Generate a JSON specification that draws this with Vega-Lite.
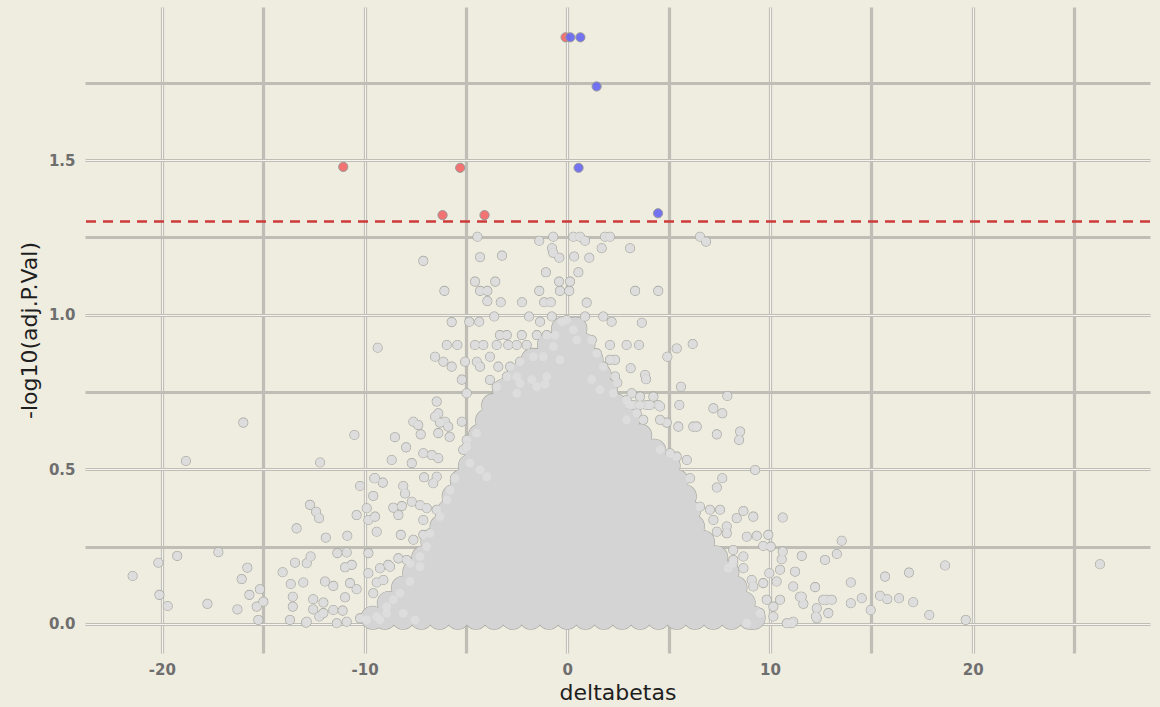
{
"$schema":"https://vega.github.io/schema/vega-lite/v6.json",
"width":1065,"height":646,
"autosize":{"type":"none"},
"padding":{"left":85,"top":7,"right":10,"bottom":54},
"background":"#EFECE0",
"config":{"view":{"stroke":null},"font":"DejaVu Sans","axis":{"labelFont":"DejaVu Sans","titleFont":"DejaVu Sans"}},
"datasets":{
"core":[
{"db":-9.6,"p":0.02},{"db":-9.0,"p":0.02},{"db":-8.1,"p":0.02},{"db":-7.2,"p":0.02},{"db":-6.3,"p":0.02},{"db":-5.4,"p":0.02},{"db":-4.5,"p":0.02},{"db":-3.6,"p":0.02},{"db":-2.7,"p":0.02},{"db":-1.8,"p":0.02},{"db":-0.9,"p":0.02},{"db":0,"p":0.02},{"db":0.9,"p":0.02},{"db":1.8,"p":0.02},{"db":2.7,"p":0.02},{"db":3.6,"p":0.02},{"db":4.5,"p":0.02},{"db":5.4,"p":0.02},{"db":6.3,"p":0.02},{"db":7.2,"p":0.02},{"db":8.1,"p":0.02},{"db":9.0,"p":0.02},{"db":9.2,"p":0.02},
{"db":-8.8,"p":0.068},{"db":-8.55,"p":0.068},{"db":-7.65,"p":0.068},{"db":-6.75,"p":0.068},{"db":-5.85,"p":0.068},{"db":-4.95,"p":0.068},{"db":-4.05,"p":0.068},{"db":-3.15,"p":0.068},{"db":-2.25,"p":0.068},{"db":-1.35,"p":0.068},{"db":-0.45,"p":0.068},{"db":0.45,"p":0.068},{"db":1.35,"p":0.068},{"db":2.25,"p":0.068},{"db":3.15,"p":0.068},{"db":4.05,"p":0.068},{"db":4.95,"p":0.068},{"db":5.85,"p":0.068},{"db":6.75,"p":0.068},{"db":7.65,"p":0.068},{"db":8.55,"p":0.068},{"db":8.7,"p":0.068},
{"db":-8.1,"p":0.117},{"db":-7.2,"p":0.117},{"db":-6.3,"p":0.117},{"db":-5.4,"p":0.117},{"db":-4.5,"p":0.117},{"db":-3.6,"p":0.117},{"db":-2.7,"p":0.117},{"db":-1.8,"p":0.117},{"db":-0.9,"p":0.117},{"db":0,"p":0.117},{"db":0.9,"p":0.117},{"db":1.8,"p":0.117},{"db":2.7,"p":0.117},{"db":3.6,"p":0.117},{"db":4.5,"p":0.117},{"db":5.4,"p":0.117},{"db":6.3,"p":0.117},{"db":7.2,"p":0.117},{"db":8.1,"p":0.117},{"db":8.3,"p":0.117},
{"db":-7.55,"p":0.166},{"db":-6.75,"p":0.166},{"db":-5.85,"p":0.166},{"db":-4.95,"p":0.166},{"db":-4.05,"p":0.166},{"db":-3.15,"p":0.166},{"db":-2.25,"p":0.166},{"db":-1.35,"p":0.166},{"db":-0.45,"p":0.166},{"db":0.45,"p":0.166},{"db":1.35,"p":0.166},{"db":2.25,"p":0.166},{"db":3.15,"p":0.166},{"db":4.05,"p":0.166},{"db":4.95,"p":0.166},{"db":5.85,"p":0.166},{"db":6.75,"p":0.166},{"db":7.65,"p":0.166},{"db":7.9,"p":0.166},
{"db":-7.1,"p":0.215},{"db":-6.3,"p":0.215},{"db":-5.4,"p":0.215},{"db":-4.5,"p":0.215},{"db":-3.6,"p":0.215},{"db":-2.7,"p":0.215},{"db":-1.8,"p":0.215},{"db":-0.9,"p":0.215},{"db":0,"p":0.215},{"db":0.9,"p":0.215},{"db":1.8,"p":0.215},{"db":2.7,"p":0.215},{"db":3.6,"p":0.215},{"db":4.5,"p":0.215},{"db":5.4,"p":0.215},{"db":6.3,"p":0.215},{"db":7.2,"p":0.215},{"db":7.35,"p":0.215},
{"db":-6.65,"p":0.265},{"db":-5.85,"p":0.265},{"db":-4.95,"p":0.265},{"db":-4.05,"p":0.265},{"db":-3.15,"p":0.265},{"db":-2.25,"p":0.265},{"db":-1.35,"p":0.265},{"db":-0.45,"p":0.265},{"db":0.45,"p":0.265},{"db":1.35,"p":0.265},{"db":2.25,"p":0.265},{"db":3.15,"p":0.265},{"db":4.05,"p":0.265},{"db":4.95,"p":0.265},{"db":5.85,"p":0.265},{"db":6.7,"p":0.265},
{"db":-6.2,"p":0.315},{"db":-5.4,"p":0.315},{"db":-4.5,"p":0.315},{"db":-3.6,"p":0.315},{"db":-2.7,"p":0.315},{"db":-1.8,"p":0.315},{"db":-0.9,"p":0.315},{"db":0,"p":0.315},{"db":0.9,"p":0.315},{"db":1.8,"p":0.315},{"db":2.7,"p":0.315},{"db":3.6,"p":0.315},{"db":4.5,"p":0.315},{"db":5.4,"p":0.315},{"db":6.2,"p":0.315},
{"db":-5.85,"p":0.364},{"db":-4.95,"p":0.364},{"db":-4.05,"p":0.364},{"db":-3.15,"p":0.364},{"db":-2.25,"p":0.364},{"db":-1.35,"p":0.364},{"db":-0.45,"p":0.364},{"db":0.45,"p":0.364},{"db":1.35,"p":0.364},{"db":2.25,"p":0.364},{"db":3.15,"p":0.364},{"db":4.05,"p":0.364},{"db":4.95,"p":0.364},{"db":5.85,"p":0.364},{"db":6.0,"p":0.364},
{"db":-5.6,"p":0.413},{"db":-5.4,"p":0.413},{"db":-4.5,"p":0.413},{"db":-3.6,"p":0.413},{"db":-2.7,"p":0.413},{"db":-1.8,"p":0.413},{"db":-0.9,"p":0.413},{"db":0,"p":0.413},{"db":0.9,"p":0.413},{"db":1.8,"p":0.413},{"db":2.7,"p":0.413},{"db":3.6,"p":0.413},{"db":4.5,"p":0.413},{"db":5.4,"p":0.413},{"db":5.8,"p":0.413},
{"db":-5.2,"p":0.462},{"db":-4.95,"p":0.462},{"db":-4.05,"p":0.462},{"db":-3.15,"p":0.462},{"db":-2.25,"p":0.462},{"db":-1.35,"p":0.462},{"db":-0.45,"p":0.462},{"db":0.45,"p":0.462},{"db":1.35,"p":0.462},{"db":2.25,"p":0.462},{"db":3.15,"p":0.462},{"db":4.05,"p":0.462},{"db":4.95,"p":0.462},{"db":5.4,"p":0.462},
{"db":-4.8,"p":0.511},{"db":-4.5,"p":0.511},{"db":-3.6,"p":0.511},{"db":-2.7,"p":0.511},{"db":-1.8,"p":0.511},{"db":-0.9,"p":0.511},{"db":0,"p":0.511},{"db":0.9,"p":0.511},{"db":1.8,"p":0.511},{"db":2.7,"p":0.511},{"db":3.6,"p":0.511},{"db":4.5,"p":0.511},{"db":5.0,"p":0.511},
{"db":-4.5,"p":0.56},{"db":-4.05,"p":0.56},{"db":-3.15,"p":0.56},{"db":-2.25,"p":0.56},{"db":-1.35,"p":0.56},{"db":-0.45,"p":0.56},{"db":0.45,"p":0.56},{"db":1.35,"p":0.56},{"db":2.25,"p":0.56},{"db":3.15,"p":0.56},{"db":4.05,"p":0.56},{"db":4.3,"p":0.56},
{"db":-4.3,"p":0.609},{"db":-3.6,"p":0.609},{"db":-2.7,"p":0.609},{"db":-1.8,"p":0.609},{"db":-0.9,"p":0.609},{"db":0,"p":0.609},{"db":0.9,"p":0.609},{"db":1.8,"p":0.609},{"db":2.7,"p":0.609},{"db":3.6,"p":0.609},
{"db":-3.95,"p":0.658},{"db":-3.15,"p":0.658},{"db":-2.25,"p":0.658},{"db":-1.35,"p":0.658},{"db":-0.45,"p":0.658},{"db":0.45,"p":0.658},{"db":1.35,"p":0.658},{"db":2.25,"p":0.658},{"db":3.0,"p":0.658},
{"db":-3.65,"p":0.707},{"db":-2.7,"p":0.707},{"db":-1.8,"p":0.707},{"db":-0.9,"p":0.707},{"db":0,"p":0.707},{"db":0.9,"p":0.707},{"db":1.8,"p":0.707},{"db":2.4,"p":0.707},
{"db":-3.1,"p":0.756},{"db":-2.25,"p":0.756},{"db":-1.35,"p":0.756},{"db":-0.45,"p":0.756},{"db":0.45,"p":0.756},{"db":1.35,"p":0.756},{"db":1.9,"p":0.756},
{"db":-2.4,"p":0.805},{"db":-1.8,"p":0.805},{"db":-0.9,"p":0.805},{"db":0,"p":0.805},{"db":0.9,"p":0.805},{"db":1.6,"p":0.805},
{"db":-1.7,"p":0.854},{"db":-1.35,"p":0.854},{"db":-0.45,"p":0.854},{"db":0.45,"p":0.854},{"db":1.2,"p":0.854},
{"db":-0.9,"p":0.903},{"db":0,"p":0.903},{"db":0.8,"p":0.903},
{"db":-0.2,"p":0.955},{"db":0.4,"p":0.955}
],
"scatter":[
{"db":-7.10,"p":1.174},{"db":-6.06,"p":1.077},{"db":-4.43,"p":1.252},{"db":-4.30,"p":1.186},{"db":-3.22,"p":1.191},{"db":-1.38,"p":1.239},{"db":-0.69,"p":1.252},{"db":-0.75,"p":1.215},{"db":-0.69,"p":1.200},{"db":-0.39,"p":1.184},{"db":0.30,"p":1.252},{"db":0.34,"p":1.188},{"db":-1.05,"p":1.137},{"db":-0.40,"p":1.107},{"db":-0.36,"p":1.077},{"db":0.14,"p":1.107},{"db":0.10,"p":1.077},{"db":-4.55,"p":1.107},{"db":-3.55,"p":1.107},{"db":-4.30,"p":1.077},{"db":-3.94,"p":1.077},{"db":-3.94,"p":1.044},{"db":-3.28,"p":1.040},{"db":-2.23,"p":1.040},{"db":-1.38,"p":1.077},{"db":-1.14,"p":1.040},{"db":-0.81,"p":1.040},
{"db":-5.70,"p":0.976},{"db":-4.83,"p":0.977},{"db":-4.34,"p":0.977},{"db":-3.60,"p":0.994},{"db":-1.88,"p":0.994},{"db":-1.34,"p":0.977},{"db":-0.76,"p":0.994},{"db":-0.27,"p":0.977},
{"db":-3.32,"p":0.934},{"db":-2.98,"p":0.934},{"db":-2.24,"p":0.934},{"db":-1.50,"p":0.934},{"db":-1.01,"p":0.934},{"db":-0.60,"p":0.934},
{"db":-5.94,"p":0.902},{"db":-5.42,"p":0.902},{"db":-4.55,"p":0.902},{"db":-4.14,"p":0.902},{"db":-3.48,"p":0.902},{"db":-2.91,"p":0.902},{"db":-2.49,"p":0.902},{"db":-2.00,"p":0.902},
{"db":-6.52,"p":0.864},{"db":-6.11,"p":0.848},{"db":-5.70,"p":0.832},{"db":-5.04,"p":0.848},{"db":-4.46,"p":0.848},{"db":-4.30,"p":0.832},{"db":-3.81,"p":0.864},{"db":-3.40,"p":0.832},{"db":-2.82,"p":0.832},{"db":-2.33,"p":0.848},{"db":-1.67,"p":0.864},{"db":-1.18,"p":0.864},
{"db":-5.20,"p":0.790},{"db":-2.49,"p":0.800},{"db":-1.75,"p":0.790},{"db":-1.10,"p":0.775},
{"db":-4.96,"p":0.746},{"db":-3.48,"p":0.767},{"db":-2.49,"p":0.746},{"db":-6.44,"p":0.719},{"db":-7.59,"p":0.654},{"db":-7.35,"p":0.643},{"db":-6.36,"p":0.681},{"db":-6.03,"p":0.654},{"db":-5.20,"p":0.654},{"db":-9.35,"p":0.893},
{"db":0.63,"p":1.252},{"db":0.88,"p":1.239},{"db":1.86,"p":1.252},{"db":2.11,"p":1.252},{"db":1.70,"p":1.215},{"db":3.10,"p":1.215},{"db":6.55,"p":1.252},{"db":6.85,"p":1.236},{"db":1.09,"p":1.184},{"db":0.55,"p":1.137},{"db":3.35,"p":1.077},{"db":4.49,"p":1.077},{"db":0.96,"p":1.039},{"db":0.88,"p":0.994},{"db":1.78,"p":0.994},{"db":2.19,"p":0.977},{"db":3.68,"p":0.974},{"db":2.93,"p":0.902},{"db":3.54,"p":0.902},{"db":2.11,"p":0.902},{"db":2.36,"p":0.854},{"db":3.13,"p":0.827},{"db":3.84,"p":0.805},{"db":3.89,"p":0.791},{"db":2.47,"p":0.780},{"db":1.21,"p":0.791},
{"db":5.40,"p":0.891},{"db":6.19,"p":0.905},{"db":4.94,"p":0.864},{"db":5.61,"p":0.767},{"db":5.53,"p":0.708},{"db":7.90,"p":0.737},{"db":7.21,"p":0.697},{"db":7.65,"p":0.681},{"db":3.18,"p":0.746},{"db":4.25,"p":0.735},{"db":4.49,"p":0.708},{"db":3.92,"p":0.708},{"db":3.26,"p":0.708},
{"db":8.53,"p":0.622},{"db":8.48,"p":0.595},{"db":7.38,"p":0.613},{"db":5.48,"p":0.638},{"db":6.22,"p":0.638},{"db":6.39,"p":0.638},{"db":4.91,"p":0.651},{"db":4.58,"p":0.703},{"db":4.08,"p":0.708},{"db":3.59,"p":0.708},{"db":3.10,"p":0.708},
{"db":9.27,"p":0.498},{"db":7.65,"p":0.471},{"db":7.38,"p":0.441},{"db":10.63,"p":0.344},{"db":8.69,"p":0.365},{"db":9.18,"p":0.347},{"db":8.36,"p":0.342},{"db":7.87,"p":0.315},{"db":7.38,"p":0.298},{"db":7.87,"p":0.293},{"db":8.86,"p":0.282},{"db":9.35,"p":0.285},{"db":9.92,"p":0.288},{"db":9.67,"p":0.252},{"db":10.04,"p":0.250},{"db":13.54,"p":0.269},{"db":11.57,"p":0.220},{"db":12.72,"p":0.207},{"db":13.30,"p":0.226},{"db":11.24,"p":0.169},{"db":10.58,"p":0.209},{"db":10.63,"p":0.234},{"db":8.69,"p":0.180},{"db":8.19,"p":0.196},{"db":7.95,"p":0.180},{"db":9.10,"p":0.142},{"db":9.67,"p":0.132},{"db":10.33,"p":0.137},{"db":9.97,"p":0.164},{"db":10.50,"p":0.175},{"db":11.15,"p":0.121},{"db":11.48,"p":0.088},{"db":12.23,"p":0.119},{"db":12.80,"p":0.078},{"db":13.99,"p":0.134},{"db":13.99,"p":0.067},{"db":10.50,"p":0.078},{"db":10.17,"p":0.056},{"db":12.31,"p":0.051},{"db":12.88,"p":0.035},{"db":11.15,"p":0.007},{"db":12.31,"p":0.018},{"db":11.65,"p":0.065},{"db":11.57,"p":0.088},
{"db":18.64,"p":0.189},{"db":15.68,"p":0.153},{"db":16.86,"p":0.166},{"db":15.43,"p":0.091},{"db":15.79,"p":0.080},{"db":16.37,"p":0.083},{"db":17.07,"p":0.070},{"db":17.86,"p":0.029},{"db":19.66,"p":0.013},{"db":26.28,"p":0.193},{"db":14.53,"p":0.083},{"db":14.97,"p":0.045},{"db":12.27,"p":0.024},{"db":11.07,"p":0.002},{"db":12.63,"p":0.078},{"db":13.05,"p":0.078},
{"db":4.58,"p":0.563},{"db":5.40,"p":0.541},{"db":5.90,"p":0.530},{"db":6.06,"p":0.471},{"db":5.07,"p":0.552},{"db":6.55,"p":0.379},{"db":7.04,"p":0.369},{"db":7.54,"p":0.369},{"db":7.21,"p":0.336},{"db":8.19,"p":0.239},{"db":8.69,"p":0.218},{"db":8.19,"p":0.207},{"db":9.18,"p":0.121},{"db":9.84,"p":0.078},{"db":9.51,"p":0.035},{"db":10.17,"p":0.024},{"db":10.83,"p":0.002},{"db":8.86,"p":0.002},
{"db":1.21,"p":0.918},{"db":1.46,"p":0.875},{"db":2.11,"p":0.854},{"db":1.78,"p":0.832},{"db":2.36,"p":0.800},{"db":1.62,"p":0.757},{"db":2.27,"p":0.746},{"db":2.93,"p":0.724},{"db":3.59,"p":0.735},{"db":3.43,"p":0.681},{"db":3.75,"p":0.660},{"db":4.58,"p":0.660},{"db":2.93,"p":0.660},
{"db":-0.02,"p":0.983},{"db":0.30,"p":0.951},{"db":0.47,"p":0.918},{"db":-0.69,"p":0.897},{"db":-0.36,"p":0.854},{"db":-1.01,"p":0.800},{"db":-1.50,"p":0.767},{"db":-2.33,"p":0.778},{"db":-2.98,"p":0.800},{"db":-3.81,"p":0.789},
{"db":-15.98,"p":0.651},{"db":-18.81,"p":0.527},{"db":-12.19,"p":0.522},{"db":-10.50,"p":0.611},{"db":-12.69,"p":0.385},{"db":-12.39,"p":0.363},{"db":-12.24,"p":0.342},{"db":-13.35,"p":0.309},{"db":-11.91,"p":0.279},{"db":-10.85,"p":0.285},{"db":-9.52,"p":0.471},{"db":-10.22,"p":0.446},{"db":-9.57,"p":0.414},{"db":-10.39,"p":0.352},{"db":-9.89,"p":0.374},{"db":-19.24,"p":0.220},{"db":-17.21,"p":0.232},{"db":-21.44,"p":0.155},{"db":-20.17,"p":0.198},{"db":-20.12,"p":0.094},{"db":-19.71,"p":0.058},{"db":-17.75,"p":0.065},{"db":-16.27,"p":0.047},{"db":-15.78,"p":0.182},{"db":-16.06,"p":0.145},{"db":-15.68,"p":0.094},{"db":-15.16,"p":0.112},{"db":-15.32,"p":0.056},{"db":-14.99,"p":0.072},{"db":-15.24,"p":0.013},{"db":-14.04,"p":0.167},{"db":-13.43,"p":0.198},{"db":-12.85,"p":0.196},{"db":-12.66,"p":0.218},{"db":-13.64,"p":0.129},{"db":-13.02,"p":0.134},{"db":-13.54,"p":0.088},{"db":-13.54,"p":0.056},{"db":-13.68,"p":0.013},{"db":-12.89,"p":0.004},{"db":-12.53,"p":0.080},{"db":-12.53,"p":0.047},{"db":-12.03,"p":0.069},{"db":-12.23,"p":0.024},{"db":-11.95,"p":0.137},{"db":-11.54,"p":0.123},{"db":-10.96,"p":0.086},{"db":-10.72,"p":0.132},{"db":-10.39,"p":0.112},{"db":-11.54,"p":0.045},{"db":-11.08,"p":0.043},{"db":-10.88,"p":0.007},{"db":-11.37,"p":0.002},{"db":-11.34,"p":0.229},{"db":-10.88,"p":0.231},{"db":-10.96,"p":0.183},{"db":-10.63,"p":0.191},{"db":-9.81,"p":0.229},{"db":-9.81,"p":0.336},{"db":-9.40,"p":0.298},{"db":-9.48,"p":0.347},
{"db":-8.50,"p":0.604},{"db":-7.95,"p":0.571},{"db":-8.66,"p":0.530},{"db":-7.23,"p":0.613},{"db":-6.52,"p":0.670},{"db":-6.28,"p":0.651},{"db":-5.87,"p":0.638},{"db":-6.36,"p":0.617},{"db":-5.80,"p":0.605},{"db":-7.67,"p":0.520},{"db":-7.10,"p":0.552},{"db":-6.68,"p":0.546},{"db":-6.36,"p":0.536},{"db":-5.13,"p":0.563},{"db":-4.96,"p":0.595},{"db":-4.47,"p":0.617},{"db":-9.48,"p":0.471},{"db":-9.10,"p":0.457},{"db":-8.09,"p":0.446},{"db":-8.00,"p":0.422},{"db":-8.58,"p":0.376},{"db":-8.33,"p":0.352},{"db":-8.16,"p":0.381},{"db":-7.67,"p":0.395},{"db":-7.26,"p":0.384},{"db":-6.93,"p":0.374},{"db":-7.10,"p":0.336},{"db":-7.10,"p":0.288},{"db":-8.21,"p":0.288},{"db":-7.06,"p":0.474},{"db":-9.40,"p":0.134},{"db":-9.81,"p":0.164},{"db":-9.24,"p":0.180},{"db":-8.83,"p":0.191},{"db":-8.33,"p":0.212},{"db":-7.76,"p":0.196},{"db":-7.26,"p":0.218},{"db":-12.85,"p":0.007},{"db":-12.03,"p":0.035},{"db":-10.22,"p":0.018},{"db":-9.40,"p":0.024},{"db":-8.91,"p":0.056},{"db":-8.58,"p":0.078},{"db":-8.09,"p":0.035},{"db":-7.51,"p":0.013},
{"db":-6.44,"p":0.476},{"db":-6.61,"p":0.455},{"db":-6.44,"p":0.369},{"db":-6.28,"p":0.347},{"db":-6.77,"p":0.293},{"db":-6.93,"p":0.250},{"db":-7.26,"p":0.185},{"db":-7.76,"p":0.137},{"db":-8.25,"p":0.099},{"db":-8.91,"p":0.035},{"db":-9.24,"p":0.013},{"db":-9.89,"p":0.013},{"db":-4.96,"p":0.573},{"db":-4.80,"p":0.520},{"db":-4.30,"p":0.498},{"db":-3.97,"p":0.476},{"db":-5.54,"p":0.471},{"db":-5.78,"p":0.433},{"db":-5.94,"p":0.401},{"db":-7.59,"p":0.272},{"db":-7.92,"p":0.207},{"db":-8.74,"p":0.185},{"db":-9.07,"p":0.142},{"db":-9.57,"p":0.099}
],
"sig":[
{"db":-0.08,"p":1.897,"dir":"down"},{"db":-5.28,"p":1.475,"dir":"down"},{"db":-6.15,"p":1.322,"dir":"down"},{"db":-4.08,"p":1.322,"dir":"down"},{"db":-11.05,"p":1.478,"dir":"down"},
{"db":0.15,"p":1.897,"dir":"up"},{"db":0.65,"p":1.897,"dir":"up"},{"db":1.45,"p":1.738,"dir":"up"},{"db":0.56,"p":1.475,"dir":"up"},{"db":4.48,"p":1.328,"dir":"up"}
],
"threshold":[{"p":1.30103}]
},
"resolve":{"axis":{"x":"independent","y":"independent"}},
"layer":[
{"data":{"name":"core"},
 "mark":{"type":"circle","size":520,"fill":"#D3D3D3","stroke":"#A5A59E","strokeWidth":1.2,"opacity":1},
 "encoding":{
  "x":{"field":"db","type":"quantitative","scale":{"domain":[-23.79,28.75],"nice":false,"zero":false},
   "axis":{"values":[-20,-15,-10,-5,0,5,10,15,20,25],"labelExpr":"datum.value % 10 === 0 ? toString(datum.value) : ''","grid":true,"gridColor":"#BFBEB6","gridWidth":3.2,"domain":false,"ticks":false,"tickSize":0,"labelFontSize":15,"labelFontWeight":"bold","labelColor":"#6E6E6E","labelPadding":9,"labelFlush":false,"labelOverlap":false,"title":"deltabetas","titleFontSize":22,"titleFontWeight":"normal","titleColor":"#1E1E1E","titlePadding":5}},
  "y":{"field":"p","type":"quantitative","scale":{"domain":[-0.094,1.995],"nice":false,"zero":false},
   "axis":{"values":[0,0.25,0.5,0.75,1,1.25,1.5,1.75],"labelExpr":"(datum.value*2) % 1 === 0 ? format(datum.value,'.1f') : ''","grid":true,"gridColor":"#BFBEB6","gridWidth":3.2,"domain":false,"ticks":false,"tickSize":0,"labelFontSize":15,"labelFontWeight":"bold","labelColor":"#6E6E6E","labelPadding":10,"labelFlush":false,"labelOverlap":false,"title":"-log10(adj.P.Val)","titleFontSize":22,"titleFontWeight":"normal","titleColor":"#1E1E1E","titlePadding":7}}
 }},
{"data":{"name":"scatter"},
 "mark":{"type":"circle","size":80,"fill":"#D8D8D8","stroke":"#A5A59E","strokeWidth":1.1,"opacity":1},
 "encoding":{
  "x":{"field":"db","type":"quantitative","scale":{"domain":[-23.79,28.75],"nice":false,"zero":false},
   "axis":{"orient":"top","values":[-20,-10,0,10,20],"grid":true,"gridColor":"#F4F3EE","gridWidth":1.1,"labels":false,"ticks":false,"domain":false,"title":null}},
  "y":{"field":"p","type":"quantitative","scale":{"domain":[-0.094,1.995],"nice":false,"zero":false},
   "axis":{"orient":"right","values":[0,0.5,1,1.5],"grid":true,"gridColor":"#F4F3EE","gridWidth":1.1,"labels":false,"ticks":false,"domain":false,"title":null}}
 }},
{"data":{"name":"core"},
 "mark":{"type":"circle","size":520,"fill":"#D4D4D4","strokeWidth":0,"opacity":1},
 "encoding":{
  "x":{"field":"db","type":"quantitative","scale":{"domain":[-23.79,28.75],"nice":false,"zero":false},"axis":null},
  "y":{"field":"p","type":"quantitative","scale":{"domain":[-0.094,1.995],"nice":false,"zero":false},"axis":null}
 }},
{"data":{"name":"scatter"},
 "mark":{"type":"circle","size":80,"fill":"#DEDEDE","fillOpacity":0.8,"strokeWidth":0,"opacity":1},
 "encoding":{
  "x":{"field":"db","type":"quantitative","scale":{"domain":[-23.79,28.75],"nice":false,"zero":false},"axis":null},
  "y":{"field":"p","type":"quantitative","scale":{"domain":[-0.094,1.995],"nice":false,"zero":false},"axis":null}
 }},
{"data":{"name":"threshold"},
 "mark":{"type":"rule","color":"#CD3A3A","strokeWidth":2.5,"strokeDash":[10,7]},
 "encoding":{
  "y":{"field":"p","type":"quantitative","scale":{"domain":[-0.094,1.995],"nice":false,"zero":false},"axis":null}
 }},
{"data":{"name":"sig"},
 "mark":{"type":"circle","size":85,"stroke":"#9A9A9A","strokeWidth":1,"opacity":1,"fillOpacity":0.92},
 "encoding":{
  "x":{"field":"db","type":"quantitative","scale":{"domain":[-23.79,28.75],"nice":false,"zero":false},"axis":null},
  "y":{"field":"p","type":"quantitative","scale":{"domain":[-0.094,1.995],"nice":false,"zero":false},"axis":null},
  "color":{"field":"dir","type":"nominal","scale":{"domain":["down","up"],"range":["#F36868","#6868F3"]},"legend":null}
 }}
]
}
